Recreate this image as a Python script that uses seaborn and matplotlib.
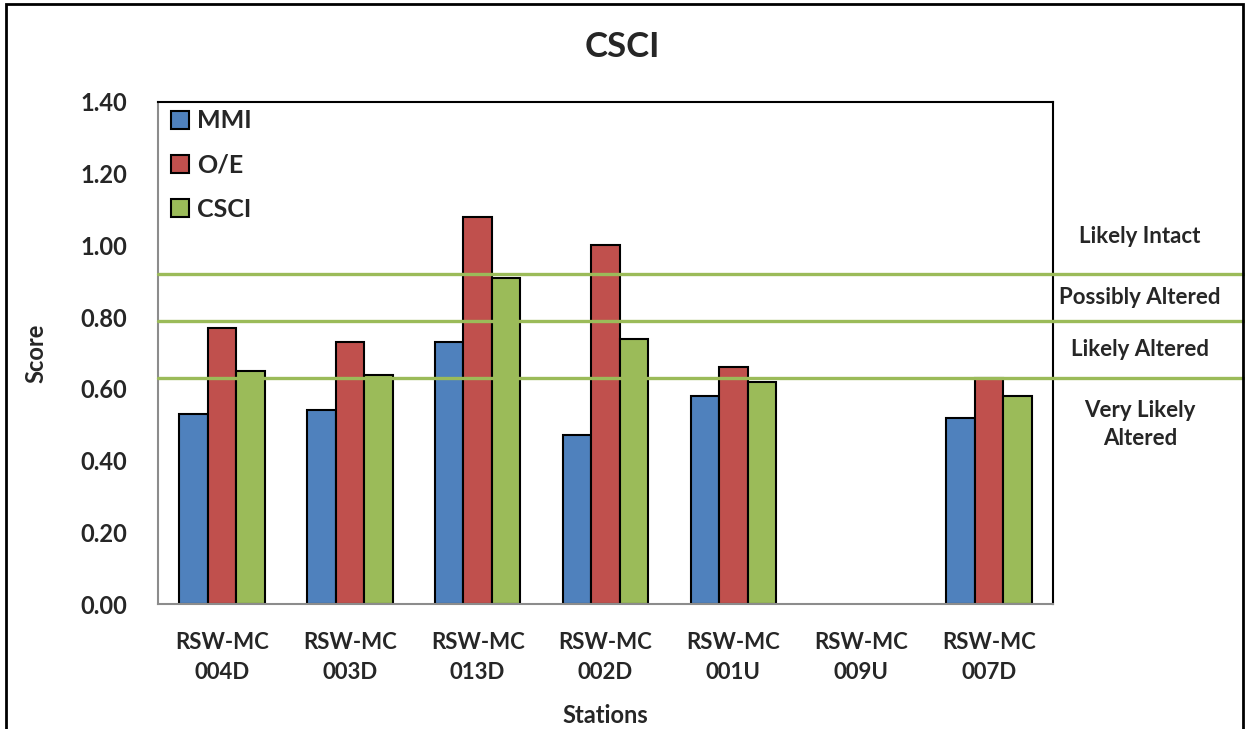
import matplotlib
matplotlib.use("Agg")
import matplotlib.pyplot as plt
import matplotlib.transforms as mtransforms
from matplotlib.patches import Rectangle
import numpy as np
import pandas as pd
import seaborn as sns

# data
stations = ["RSW-MC\n004D", "RSW-MC\n003D", "RSW-MC\n013D", "RSW-MC\n002D",
            "RSW-MC\n001U", "RSW-MC\n009U", "RSW-MC\n007D"]
mmi = [0.53, 0.54, 0.73, 0.47, 0.58, np.nan, 0.52]
oe = [0.77, 0.73, 1.08, 1.00, 0.66, np.nan, 0.63]
csci = [0.65, 0.64, 0.91, 0.74, 0.62, np.nan, 0.58]
series = ["MMI", "O/E", "CSCI"]
colors = ["#4F81BD", "#C0504D", "#9BBB59"]

thresholds = [0.92, 0.79, 0.63]
band_labels = ["Likely Intact", "Possibly Altered", "Likely Altered", "Very Likely\nAltered"]
band_label_y = [1.025, 0.855, 0.71, 0.50]

df = pd.DataFrame({
    "Station": stations * 3,
    "Index": [s for s in series for _ in stations],
    "Score": mmi + oe + csci,
}).dropna()

sns.set_style("white")
plt.rcParams['font.family'] = ['Lato', 'DejaVu Sans']

fig = plt.figure(figsize=(12.45, 7.29), dpi=100)
ax = fig.add_axes([158 / 1245, 1 - 604 / 729, 895 / 1245, 502 / 729])

sns.barplot(data=df, x="Station", y="Score", hue="Index", order=stations,
            hue_order=series, palette=colors, width=0.67, edgecolor="black",
            linewidth=1.5, saturation=1, ax=ax, zorder=2)

for t in thresholds:
    ax.axhline(t, xmin=0, xmax=1.22, color="#9BBB59", lw=2.4, clip_on=False, zorder=3)

trans = mtransforms.blended_transform_factory(ax.transAxes, ax.transData)
for lab, y in zip(band_labels, band_label_y):
    ax.text(1.097, y, lab, transform=trans, ha="center", va="center",
            fontsize=16, fontweight="bold", linespacing=1.4)

ax.set_ylim(0, 1.4)
ax.set_yticks(np.arange(0, 1.41, 0.2))
ax.set_yticklabels([f"{v:.2f}" for v in np.arange(0, 1.41, 0.2)])
ax.tick_params(axis="y", length=0, labelsize=17, pad=22)
ax.tick_params(axis="x", length=0, labelsize=16, pad=20)
for lbl in ax.get_xticklabels() + ax.get_yticklabels():
    lbl.set_fontweight("bold")
    lbl.set_linespacing(1.55)

ax.set_xlabel("Stations", fontsize=17, fontweight="bold", labelpad=15)
ax.set_ylabel("Score", fontsize=17, fontweight="bold")
ax.yaxis.set_label_coords(-0.123, 0.5)

for side in ["left", "bottom"]:
    ax.spines[side].set_color("#8c8c8c")
    ax.spines[side].set_linewidth(1.5)
for side in ["top", "right"]:
    ax.spines[side].set_color("black")
    ax.spines[side].set_linewidth(1.5)

leg = ax.legend(loc="upper left", bbox_to_anchor=(0.0, 1.01), frameon=False,
                prop={"size": 18, "weight": "bold"}, handlelength=0.75,
                handleheight=0.75, handletextpad=0.3, labelspacing=0.85,
                borderaxespad=0.1)
for h in leg.legend_handles:
    h.set_edgecolor("black")
    h.set_linewidth(1.5)

fig.text(0.5, 1 - 47 / 729, "CSCI", ha="center", va="center",
         fontsize=25, fontweight="bold")

fig.patches.append(Rectangle((6 / 1245, -0.01), 1237 / 1245, 1.01 - 4 / 729,
                             transform=fig.transFigure, fill=False,
                             edgecolor="black", lw=2))

fig.savefig("out.png", dpi=100)
